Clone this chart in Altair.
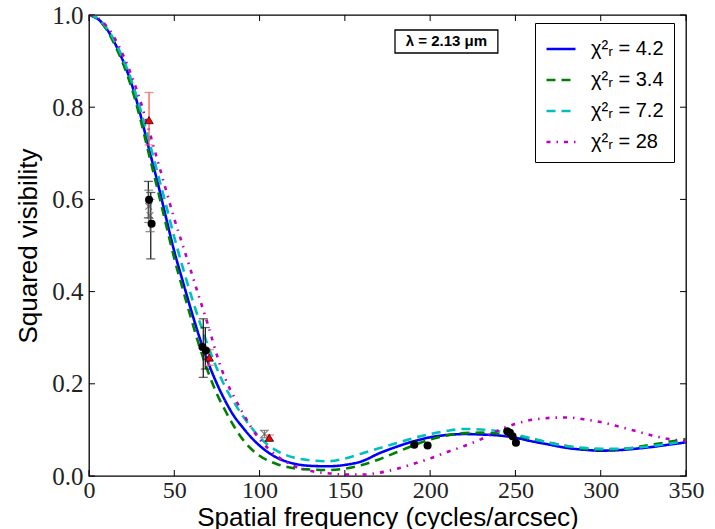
import altair as alt
import pandas as pd

# ---------------- data ----------------
freq = [0, 5, 10, 15, 20, 25, 30, 35, 40, 45, 50, 55, 60, 65, 70, 75, 80, 85, 90, 95, 100,
        110, 120, 130, 140, 150, 160, 170, 180, 190, 200, 210, 220, 230, 240, 250, 260,
        270, 280, 290, 300, 310, 320, 330, 340, 350]

v_chi42 = [1.000, 0.992, 0.972, 0.940, 0.900, 0.850, 0.786, 0.712, 0.640, 0.563, 0.487,
           0.422, 0.358, 0.298, 0.245, 0.200, 0.162, 0.130, 0.106, 0.084, 0.066,
           0.040, 0.027, 0.022, 0.021, 0.024, 0.032, 0.049, 0.063, 0.075, 0.084, 0.089,
           0.091, 0.090, 0.088, 0.083, 0.075, 0.068, 0.061, 0.057, 0.055, 0.056, 0.059,
           0.063, 0.068, 0.073]

v_chi34 = [1.000, 0.991, 0.970, 0.936, 0.894, 0.842, 0.776, 0.700, 0.625, 0.548, 0.472,
           0.405, 0.340, 0.278, 0.224, 0.178, 0.141, 0.108, 0.080, 0.059, 0.044,
           0.026, 0.017, 0.014, 0.013, 0.016, 0.024, 0.036, 0.051, 0.066, 0.079, 0.088,
           0.093, 0.094, 0.092, 0.087, 0.080, 0.072, 0.065, 0.059, 0.057, 0.058, 0.062,
           0.068, 0.074, 0.080]

v_chi72 = [1.000, 0.993, 0.974, 0.944, 0.905, 0.857, 0.797, 0.730, 0.660, 0.590, 0.518,
           0.452, 0.390, 0.333, 0.280, 0.233, 0.192, 0.160, 0.131, 0.106, 0.084,
           0.055, 0.040, 0.034, 0.032, 0.038, 0.049, 0.060, 0.071, 0.082, 0.091, 0.098,
           0.102, 0.101, 0.097, 0.090, 0.081, 0.072, 0.065, 0.061, 0.059, 0.059, 0.061,
           0.065, 0.070, 0.076]

v_chi28 = [1.000, 0.994, 0.977, 0.950, 0.913, 0.868, 0.815, 0.752, 0.687, 0.622, 0.558,
           0.500, 0.442, 0.383, 0.325, 0.262, 0.210, 0.172, 0.138, 0.106, 0.080,
           0.044, 0.022, 0.011, 0.006, 0.003, 0.003, 0.007, 0.015, 0.026, 0.038, 0.052,
           0.065, 0.080, 0.099, 0.113, 0.122, 0.126, 0.127, 0.123, 0.117, 0.108, 0.098,
           0.088, 0.080, 0.076]

model_labels = ["χ²ᵣ = 4.2", "χ²ᵣ = 3.4", "χ²ᵣ = 7.2", "χ²ᵣ = 28"]
model_colors = ["#0000ff", "#008000", "#00bfbf", "#bf00bf"]
model_dashes = [[1, 0], [9, 6], [9, 6], [4, 6, 1.5, 6]]

# black circles
blk_x = [35.2, 36.7, 66.5, 68.5, 190.7, 198.5, 245.2, 246.8, 248.3, 250.3]
blk_y = [0.599, 0.547, 0.280, 0.272, 0.068, 0.066, 0.097, 0.094, 0.086, 0.072]
# black error bars
blk_err_x = [34.8, 36.2, 67.0, 68.2]
blk_err_lo = [0.560, 0.471, 0.214, 0.232]
blk_err_hi = [0.639, 0.615, 0.341, 0.322]

# red triangles
red_x = [35.2, 70.5, 105.7]
red_y = [0.772, 0.257, 0.083]
red_lo = [0.718, 0.240, 0.077]
red_hi = [0.832, 0.274, 0.089]

# grey crosses
gry_x = [35.0, 35.8, 102.8]
gry_y = [0.585, 0.565, 0.091]
gry_lo = [0.550, 0.530, 0.083]
gry_hi = [0.620, 0.600, 0.099]

x_ticks = [0, 50, 100, 150, 200, 250, 300, 350]
y_ticks = [0.0, 0.2, 0.4, 0.6, 0.8, 1.0]

note_text = "λ = 2.13 μm"

# ---------------- tables ----------------
rows = []
for lab, vals in zip(model_labels, [v_chi42, v_chi34, v_chi72, v_chi28]):
    for f, v in zip(freq, vals):
        rows.append({"f": f, "v": v, "model": lab})
curves = pd.DataFrame(rows)

blk = pd.DataFrame({"f": blk_x, "v": blk_y})
blk_err = pd.DataFrame({"f": blk_err_x, "lo": blk_err_lo, "hi": blk_err_hi})
red = pd.DataFrame({"f": red_x, "v": red_y, "lo": red_lo, "hi": red_hi})
gry = pd.DataFrame({"f": gry_x, "v": gry_y, "lo": gry_lo, "hi": gry_hi})

XMAX, YMAX = 350, 1.0
xt = pd.DataFrame({"f": x_ticks})
yt = pd.DataFrame({"v": y_ticks})

xs = alt.Scale(domain=[0, XMAX], nice=False, zero=False)
ys = alt.Scale(domain=[0, YMAX], nice=False, zero=False)

TICK_FONT = "Liberation Serif, DejaVu Serif, serif"
x_axis = alt.Axis(values=x_ticks, format="d", title="Spatial frequency (cycles/arcsec)",
                  ticks=False, domain=False, grid=False, labelPadding=2,
                  labelFlush=False, labelOverlap=False, titlePadding=2, labelFont=TICK_FONT,
                  labelFontSize=24)
y_axis = alt.Axis(values=y_ticks, format=".1f", title="Squared visibility",
                  ticks=False, domain=False, grid=False, labelPadding=6,
                  labelFlush=False, labelOverlap=False, titlePadding=10, labelFont=TICK_FONT,
                  labelFontSize=25)

lines = alt.Chart(curves).mark_line(strokeWidth=2.6, interpolate="monotone", clip=True).encode(
    x=alt.X("f:Q", scale=xs, axis=x_axis),
    y=alt.Y("v:Q", scale=ys, axis=y_axis),
    color=alt.Color("model:N", scale=alt.Scale(domain=model_labels, range=model_colors),
                    sort=model_labels, legend=alt.Legend(title=None)),
    strokeDash=alt.StrokeDash("model:N", scale=alt.Scale(domain=model_labels, range=model_dashes),
                              sort=model_labels, legend=alt.Legend(title=None)),
    detail="model:N",
)

def errbars(df, color, width=1.3):
    bar = alt.Chart(df).mark_rule(color=color, strokeWidth=width).encode(
        x=alt.X("f:Q", scale=xs), y=alt.Y("lo:Q", scale=ys), y2="hi:Q")
    cap_lo = alt.Chart(df).mark_tick(color=color, orient="horizontal", size=9, thickness=1.3).encode(
        x=alt.X("f:Q", scale=xs), y=alt.Y("lo:Q", scale=ys))
    cap_hi = alt.Chart(df).mark_tick(color=color, orient="horizontal", size=9, thickness=1.3).encode(
        x=alt.X("f:Q", scale=xs), y=alt.Y("hi:Q", scale=ys))
    return bar + cap_lo + cap_hi

blk_bars = errbars(blk_err, "#222222")
gry_bars = errbars(gry, "#666666", 1.0)
red_bars = errbars(red, "#ff5555")

gry_pts = alt.Chart(gry).mark_point(shape="M-1,-1L1,1M1,-1L-1,1", filled=False, color="#555555",
                                    size=45, strokeWidth=1.2).encode(
    x=alt.X("f:Q", scale=xs), y=alt.Y("v:Q", scale=ys))
blk_pts = alt.Chart(blk).mark_point(shape="circle", filled=True, color="black", opacity=1,
                                    size=65).encode(
    x=alt.X("f:Q", scale=xs), y=alt.Y("v:Q", scale=ys))
red_pts = alt.Chart(red).mark_point(shape="triangle-up", filled=True, fill="#ff0000", stroke="black",
                                    strokeWidth=0.7, opacity=1, size=70).encode(
    x=alt.X("f:Q", scale=xs), y=alt.Y("v:Q", scale=ys))

# inward tick marks on all four sides
tx = 0.013 * YMAX
ty = 3.5
bot_ticks = alt.Chart(xt).transform_calculate(a="0", b=str(tx)).mark_rule(color="black", strokeWidth=1).encode(
    x=alt.X("f:Q", scale=xs), y=alt.Y("a:Q", scale=ys), y2="b:Q")
top_ticks = alt.Chart(xt).transform_calculate(a=str(YMAX), b=str(YMAX - tx)).mark_rule(color="black", strokeWidth=1).encode(
    x=alt.X("f:Q", scale=xs), y=alt.Y("a:Q", scale=ys), y2="b:Q")
left_ticks = alt.Chart(yt).transform_calculate(a="0", b=str(ty)).mark_rule(color="black", strokeWidth=1).encode(
    y=alt.Y("v:Q", scale=ys), x=alt.X("a:Q", scale=xs), x2="b:Q")
right_ticks = alt.Chart(yt).transform_calculate(a=str(XMAX), b=str(XMAX - ty)).mark_rule(color="black", strokeWidth=1).encode(
    y=alt.Y("v:Q", scale=ys), x=alt.X("a:Q", scale=xs), x2="b:Q")

# annotation box
note = pd.DataFrame({"x0": [179.4], "x1": [239.7], "y0": [0.9176], "y1": [0.9675],
                     "xc": [209.5], "yc": [0.943], "t": [note_text]})
note_box = alt.Chart(note).mark_rect(fill="white", stroke="black", strokeWidth=1.3).encode(
    x=alt.X("x0:Q", scale=xs), x2="x1:Q", y=alt.Y("y0:Q", scale=ys), y2="y1:Q")
note_txt = alt.Chart(note).mark_text(font="Liberation Sans", fontSize=15, fontWeight="bold",
                                     color="black", baseline="middle", align="center").encode(
    x=alt.X("xc:Q", scale=xs), y=alt.Y("yc:Q", scale=ys), text="t:N")

chart = alt.layer(
    lines, blk_bars, gry_bars, red_bars, gry_pts, blk_pts, red_pts,
    bot_ticks, top_ticks, left_ticks, right_ticks, note_box, note_txt
).properties(
    width=597, height=461,
    padding={"left": 89, "top": 15, "right": 29, "bottom": 53},
    autosize=alt.AutoSizeParams(type="none"),
    background="white",
).configure_view(
    stroke="black", strokeWidth=1.3
).configure_axis(
    labelFont=TICK_FONT, labelColor="#222222",
    titleFont="Liberation Sans", titleFontSize=26, titleFontWeight="normal", titleColor="black",
).configure_legend(
    orient="none", legendX=446, legendY=8,
    strokeColor="black", fillColor="white", padding=10, cornerRadius=0,
    symbolType="stroke", symbolSize=841, symbolStrokeWidth=2.6,
    labelFont="Liberation Sans", labelFontSize=20, labelColor="black",
    rowPadding=5, labelOffset=14, labelLimit=300,
)

chart.save("out.html", embed_options={"renderer": "svg", "actions": False})
